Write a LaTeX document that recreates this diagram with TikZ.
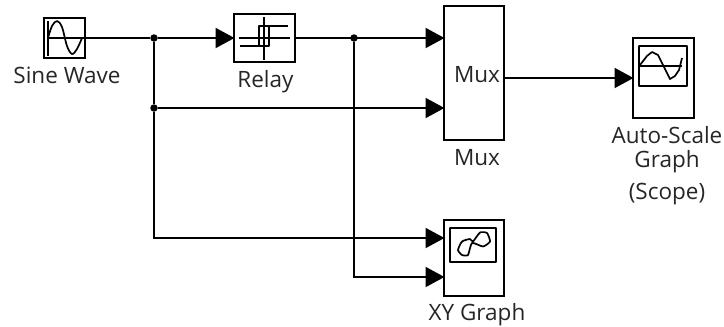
\documentclass[tikz,border=0pt]{standalone}
\usepackage{fontspec}
\setmainfont{Open Sans}
\usetikzlibrary{arrows.meta}
\tikzset{
  x=1pt,y=-1pt,
  block/.style={draw=black,line width=2pt,fill=white,inner sep=0pt,outer sep=0pt,anchor=north west},
  screen/.style={draw=black,line width=1.8pt,rounded corners=0.5pt},
  icon/.style={draw=black,line width=1.7pt,line join=round},
  wire/.style={draw=black,line width=2pt},
  feed/.style={wire,-{Triangle[length=19pt,width=20pt]},shorten >=-0.5pt},
  dotj/.style={circle,fill=black,inner sep=0pt,minimum size=7.5pt},
  lbl/.style={anchor=base,inner sep=0pt,font=\fontsize{22.5}{24}\selectfont,text=black!85}
}
\begin{document}
\begin{tikzpicture}
\useasboundingbox (0,0) rectangle (724,327);
% blocks
\node[block,minimum width=41pt,minimum height=40pt] (sine) at (44,18) {};
\node[block,minimum width=61pt,minimum height=48pt] (relay) at (234,14) {};
\node[block,minimum width=60pt,minimum height=134pt] (mux) at (444,6) {};
\node[block,minimum width=61pt,minimum height=80pt] (scope) at (633,38) {};
\node[block,minimum width=60pt,minimum height=76pt] (xy) at (444,220) {};
% junctions
\node[dotj] (j1) at (154,38) {};
\node[dotj] (j2) at (154,108) {};
\node[dotj] (j3) at (354,38) {};
\coordinate (c1) at (154,238);
\coordinate (c2) at (354,277);
% wires
\draw[wire] (sine.east |- j1) -- (j1);
\draw[feed] (j1) -- (relay.west |- j1);
\draw[feed] (relay.east |- j3) -- (mux.west |- j3);
\draw[feed] (j2) -- (mux.west |- j2);
\draw[wire,line join=miter] (j1) -- (j2) -- (c1) -- ([xshift=5pt]c1);
\draw[feed] (c1) -- (xy.west |- c1);
\draw[wire] (j3) -- (c2) -- ([xshift=5pt]c2);
\draw[feed] (c2) -- (xy.west |- c2);
\coordinate (m1) at (504,78);
\draw[feed] (mux.east |- m1) -- (scope.west |- m1);
% sine icon
\draw[icon] (48,21) -- (48,56);
\draw[icon] (47,38) -- (84,38);
\draw[icon] plot[smooth,tension=0.55] coordinates {(48,38) (52,26) (57,21) (62,27) (67,46) (72,54) (77,49) (82,38)};
% relay icon
\draw[icon] (239,38) -- (290,38);
\draw[icon] (264,17) -- (264,60);
\draw[icon] (288,26) -- (259,26) -- (259,46);
\draw[icon] (240,46) -- (269,46) -- (269,26);
% scope icon
\draw[screen] (639,46) rectangle (687,86);
\draw[icon] (640,66) -- (682,66);
\draw[icon] (640,65) -- (647,56) -- (652,52) -- (658,55) -- (664,67) -- (670,79) -- (675,76) -- (679,70) -- (682,58);
% xy icon
\draw[screen] (450,228) rectangle (496,262);
\draw[icon] plot[smooth cycle,tension=0.35] coordinates {(458,250) (462,241.5) (470,239) (473,241.5) (480,232.5) (487,233) (490,241.5) (483,246.5) (472,243) (468,255) (462,255)};
% labels
\node[lbl] (tsine) at (67,83) {Sine Wave};
\node[lbl] (trelay) at (265.5,87) {Relay};
\node[lbl] (tmuxin) at (477,82) {Mux};
\node[lbl] (tmux) at (477,165) {Mux};
\node[lbl] (ta) at (667,143) {Auto-Scale};
\node[lbl] (tb) at (667,167) {Graph};
\node[lbl] (tc) at (667,199) {(Scope)};
\node[lbl] (txy) at (477,320) {XY Graph};
\end{tikzpicture}
\end{document}
